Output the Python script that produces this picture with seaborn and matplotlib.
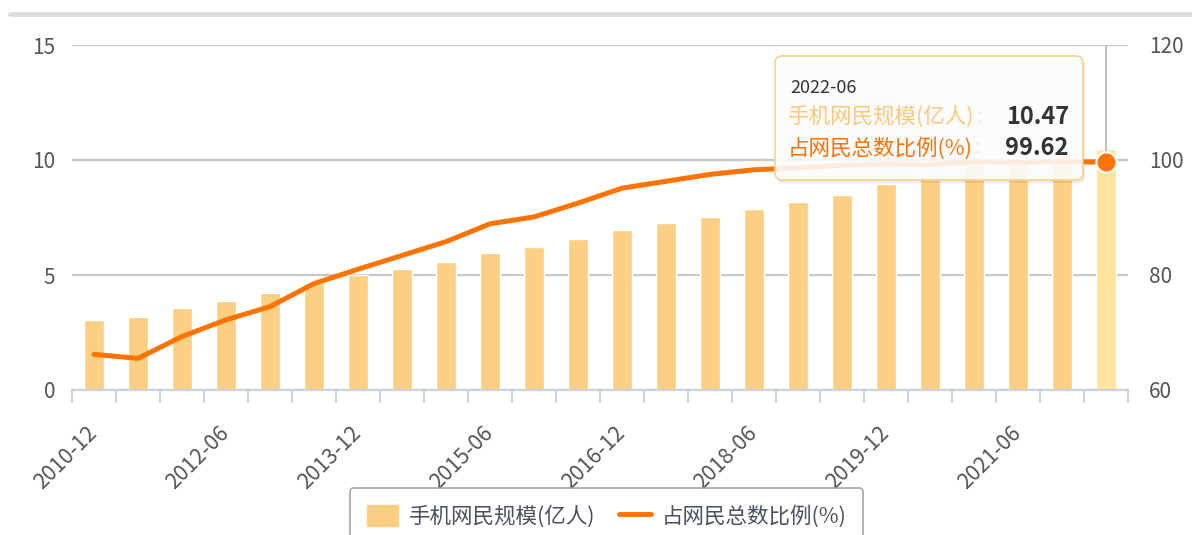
import numpy as np
import pandas as pd
import matplotlib
matplotlib.use('Agg')
import matplotlib.pyplot as plt
import seaborn as sns
from matplotlib.patches import FancyBboxPatch, Patch
from matplotlib.lines import Line2D

# 数据: 手机网民规模 与 占网民总数比例 (半年度)
periods = ['2010-12', '2011-06', '2011-12', '2012-06', '2012-12', '2013-06',
           '2013-12', '2014-06', '2014-12', '2015-06', '2015-12', '2016-06',
           '2016-12', '2017-06', '2017-12', '2018-06', '2018-12', '2019-06',
           '2019-12', '2020-06', '2020-12', '2021-06', '2021-12', '2022-06']
mobile_users = [3.03, 3.18, 3.56, 3.88, 4.20, 4.64, 5.00, 5.27, 5.57, 5.94, 6.20, 6.56,
                6.95, 7.24, 7.53, 7.88, 8.17, 8.47, 8.97, 9.32, 9.86, 10.07, 10.29, 10.47]
mobile_share = [66.2, 65.5, 69.3, 72.2, 74.5, 78.5, 81.0, 83.4, 85.8, 88.9, 90.1, 92.5,
                95.1, 96.3, 97.5, 98.3, 98.6, 99.1, 99.3, 99.2, 99.7, 99.6, 99.7, 99.62]
left_ticks = [0, 5, 10, 15]
right_ticks = [60, 80, 100, 120]
label_step = 3

name_users = '手机网民规模(亿人)'
name_share = '占网民总数比例(%)'

BAR = '#fcd082'
BAR_HI = '#ffe49c'
LINE = '#ff7300'
AXIS = '#c9d3df'
GRID = '#c8c8c8'
TXT = '#555555'

sns.set_theme(style='white')
plt.rcParams['font.family'] = ['Noto Sans CJK SC', 'DejaVu Sans']

W, H = 1192, 535
fig = plt.figure(figsize=(W / 100, H / 100), dpi=100)
ax = fig.add_axes([72 / W, 1 - 390 / H, (1128 - 72) / W, (390 - 45) / H])

df = pd.DataFrame({'period': periods, 'users': mobile_users, 'share': mobile_share})
n = len(df)

# 柱状图
sns.barplot(data=df, x='period', y='users', color=BAR, saturation=1, width=0.46, ax=ax, zorder=2)
ax.patches[-1].set_facecolor(BAR_HI)
ax.set_ylim(left_ticks[0], left_ticks[-1])
ax.set_yticks(left_ticks)
ax.yaxis.grid(True, color=GRID, lw=1.6)
ax.set_axisbelow(True)

# 折线 (右轴)
ax2 = ax.twinx()
sns.lineplot(x=np.arange(n), y=df['share'], color=LINE, lw=3.6, ax=ax2, zorder=3,
             solid_joinstyle='round', solid_capstyle='round')
ax2.set_ylim(right_ticks[0], right_ticks[-1])
ax2.set_yticks(right_ticks)
# 指示线 + 高亮点
ax2.plot([n - 1, n - 1], [df['share'].iloc[-1], right_ticks[-1]], color='#bbbbbb', lw=1.3, zorder=2)
ax2.scatter([n - 1], [df['share'].iloc[-1]], s=210, color=LINE, edgecolor='white', linewidth=1.5, zorder=6)

for a in (ax, ax2):
    a.set_xlabel('')
    a.set_ylabel('')
    for s in ('left', 'right', 'top'):
        a.spines[s].set_visible(False)
ax2.spines['bottom'].set_visible(False)
ax.spines['bottom'].set_color(AXIS)
ax.spines['bottom'].set_linewidth(1.6)

ax.set_xlim(-0.5, n - 0.5)
ax.set_xticks(np.arange(0, n, label_step))
ax.set_xticklabels(periods[::label_step], rotation=45, ha='right', va='center', rotation_mode='anchor')
ax.set_xticks(np.arange(-0.5, n, 1), minor=True)
ax.tick_params(axis='x', which='major', length=0, pad=29, labelsize=15.5, labelcolor=TXT)
ax.tick_params(axis='x', which='minor', bottom=True, length=9, width=1.4, color=AXIS)
ax.tick_params(axis='y', length=0, pad=12, labelsize=15, labelcolor=TXT)
ax2.tick_params(axis='y', length=0, pad=15, labelsize=15, labelcolor=TXT)

# 顶部灰线
fig.add_artist(Line2D([10 / W, 1], [1 - 14 / H] * 2, transform=fig.transFigure, color='#dcdcdc', lw=3.5))

# 提示框
tr = fig.dpi_scale_trans
x0, y0, bw, bh = 7.75, (H - 180) / 100, 3.08, 1.24
fig.add_artist(FancyBboxPatch((x0 + 0.02, y0 - 0.03), bw, bh, boxstyle='round,pad=0,rounding_size=0.07',
                              transform=tr, facecolor='#000000', alpha=0.08, edgecolor='none', zorder=8))
fig.add_artist(FancyBboxPatch((x0, y0), bw, bh, boxstyle='round,pad=0,rounding_size=0.07',
                              transform=tr, facecolor='white', alpha=0.88, edgecolor='#f8cf85', lw=1.3, zorder=9))
fig.text(7.90, (H - 88) / 100, periods[-1], transform=tr, fontsize=13, color='#333333', va='center', zorder=10)
rows = [(name_users, mobile_users[-1], '#fcc77b', (H - 117) / 100),
        (name_share, mobile_share[-1], '#ff6f0a', (H - 148) / 100)]
for name, val, col, yy in rows:
    t = fig.text(7.88, yy, name, transform=tr, fontsize=15.5, color=col, va='center', zorder=10)
    fig.text(10.69, yy, f'{val:.2f}', transform=tr, fontsize=17, fontweight='bold', color='#333333',
             ha='right', va='center', zorder=10)
    ax.annotate(':', xy=(1, 0.5), xycoords=t, xytext=(1, 0), textcoords='offset points',
                fontsize=15.5, color='#666666', va='center', annotation_clip=False, zorder=10)

# 图例
handles = [Patch(facecolor=BAR, edgecolor=BAR), Line2D([0], [0], color=LINE, lw=3.5)]
leg = fig.legend(handles, [name_users, name_share], loc='upper left', bbox_to_anchor=(350 / W, 1 - 488 / H),
                 borderaxespad=0, ncol=2, frameon=True, fancybox=True, edgecolor='#9a9a9a', fontsize=15.5,
                 handlelength=1.45, handleheight=1.1, columnspacing=1.1, borderpad=0.8, handletextpad=0.5)
leg.get_frame().set_linewidth(1.3)
for t in leg.get_texts():
    t.set_color('#4a5060')

fig.savefig('out.png', dpi=100)
